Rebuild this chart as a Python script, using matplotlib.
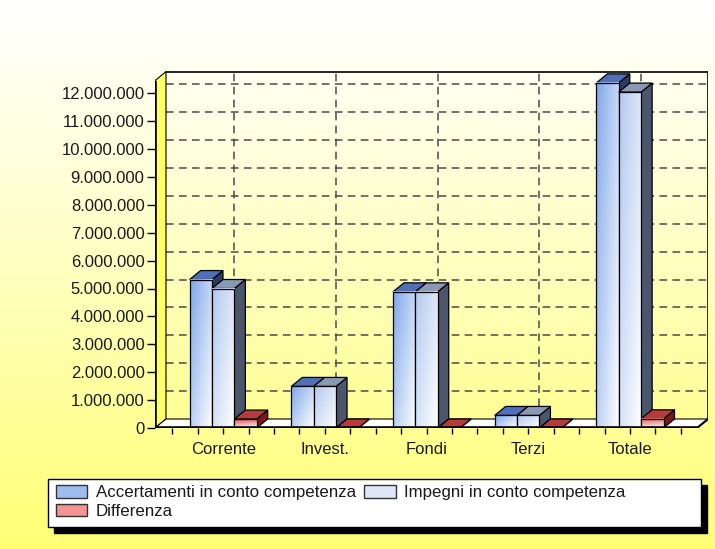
import numpy as np
import matplotlib
matplotlib.use("Agg")
import matplotlib.pyplot as plt
from matplotlib.patches import Polygon, Rectangle, Patch
from matplotlib.colors import to_rgb
from matplotlib.ticker import FuncFormatter, FixedLocator

plt.rcParams['font.family'] = ['Liberation Sans', 'DejaVu Sans']

categories = ["Corrente", "Invest.", "Fondi", "Terzi", "Totale"]
series_names = ["Accertamenti in conto competenza", "Impegni in conto competenza", "Differenza"]
accertamenti = [5320000, 1490000, 4880000, 450000, 12370000]
impegni = [5000000, 1490000, 4880000, 450000, 12040000]
differenza = [320000, 0, 0, 0, 330000]
y_ticks = list(range(0, 12000001, 1000000))

W, H = 715, 549
fig = plt.figure(figsize=(W / 100, H / 100), dpi=100)

# ---- figure background gradient (white top -> yellow bottom)
bg = fig.add_axes([0, 0, 1, 1], zorder=-10)
rows = np.linspace(0, 1, 256)[:, None]
top_c = np.array(to_rgb("#FFFFFF"))
bot_c = np.array(to_rgb("#FFFF74"))
t = rows ** 1.1
grad = (top_c * (1 - t) + bot_c * t)[:, None, :].repeat(2, axis=1)
bg.imshow(grad, aspect='auto', extent=[0, 1, 1, 0], interpolation='bilinear')
bg.set_xlim(0, 1); bg.set_ylim(1, 0)
bg.axis('off')

# ---- main axes geometry
XL, XR = -0.67, 4.66          # floor front extent in category units
PX_PER_CAT = 101.7
PX_PER_VAL = 27.9 / 1e6
DX = 11 / PX_PER_CAT
DY = 9 / PX_PER_VAL
YMAX = 12.85e6
WALL_TOP = 12.45e6
x0_px = 155
y0_px = 428
ax_w = (XR + DX - XL) * PX_PER_CAT
ax_h = YMAX * PX_PER_VAL
ax = fig.add_axes([x0_px / W, (H - y0_px) / H, ax_w / W, ax_h / H])
ax.set_facecolor("none")
for s in ax.spines.values():
    s.set_visible(False)

# back wall
wall = np.linspace(0, 1, 128)[:, None]
wt = np.array(to_rgb("#FFFFF2")); wb = np.array(to_rgb("#FFFF96"))
wg = (wb * (1 - wall) + wt * wall)[:, None, :].repeat(2, axis=1)
ax.imshow(wg, aspect='auto', origin='lower', extent=[XL + DX, XR + DX, DY, WALL_TOP + DY],
          interpolation='bilinear', zorder=1)

# grid lines on back wall
for v in y_ticks[1:]:
    ax.plot([XL + DX, XR + DX], [v + DY, v + DY], color="#4a4a4a", lw=1.1,
            dashes=(5, 3.5), zorder=2)
for i in range(len(categories)):
    ax.plot([i + DX, i + DX], [DY, WALL_TOP + DY], color="#4a4a4a", lw=1.1,
            dashes=(5, 3.5), zorder=2)

# left wall
ax.add_patch(Polygon([(XL, 0), (XL + DX, DY), (XL + DX, WALL_TOP + DY), (XL, WALL_TOP)],
                     closed=True, facecolor="#FFFF6A", edgecolor="black", lw=0.8, zorder=3))
# floor
ax.add_patch(Polygon([(XL, 0), (XR, 0), (XR + DX, DY), (XL + DX, DY)],
                     closed=True, facecolor="white", edgecolor="black", lw=0.8, zorder=3))
# frame lines
ax.plot([XL + DX, XR + DX], [WALL_TOP + DY, WALL_TOP + DY], color="black", lw=1.2, zorder=3)
ax.plot([XR + DX, XR + DX], [DY, WALL_TOP + DY], color="black", lw=1.2, zorder=3)
ax.plot([XL, XL], [0, WALL_TOP], color="black", lw=2.6, zorder=20, solid_capstyle='butt')
ax.plot([XL, XR], [0, 0], color="black", lw=2.6, zorder=20, solid_capstyle='butt')
ax.plot([XR, XR + DX], [0, DY], color="black", lw=1.5, zorder=20)


def gradient_face(base, u_w, v_w):
    n = 64
    u = np.linspace(0, 1, n)[None, :]
    v = np.linspace(0, 1, n)[:, None]
    tt = np.clip((1 - u) * u_w + v * v_w, 0, 1)
    c = np.array(to_rgb(base))
    white = np.ones(3)
    return white * (1 - tt[..., None]) + c * tt[..., None]


styles = [
    dict(front="#7FA7EA", uw=0.55, vw=0.45, top="#4F70B6", side="#2E3C64"),
    dict(front="#B3C8EF", uw=0.55, vw=0.45, top="#8A98B4", side="#4B566D"),
    dict(front="#DA5252", uw=0.15, vw=0.85, top="#B63C3C", side="#7A1818"),
]
series = [accertamenti, impegni, differenza]
BW = 0.22
for i in range(len(categories)):
    for j, vals in enumerate(series):
        h = vals[i]
        st = styles[j]
        x0 = i - 1.5 * BW + j * BW
        x1 = x0 + BW
        z = 5 + j * 4
        # side
        ax.add_patch(Polygon([(x1, 0), (x1 + DX, DY), (x1 + DX, h + DY), (x1, h)], closed=True,
                             facecolor=st["side"], edgecolor="black", lw=0.9, zorder=z))
        # top
        ax.add_patch(Polygon([(x0, h), (x1, h), (x1 + DX, h + DY), (x0 + DX, h + DY)], closed=True,
                             facecolor=st["top"], edgecolor="black", lw=0.9, zorder=z + 1))
        # front
        if h > 0:
            ax.imshow(gradient_face(st["front"], st["uw"], st["vw"]), aspect='auto', origin='lower',
                      extent=[x0, x1, 0, h], interpolation='bilinear', zorder=z + 2)
            ax.add_patch(Rectangle((x0, 0), BW, h, facecolor="none", edgecolor="black",
                                   lw=0.9, zorder=z + 3))

ax.set_xlim(XL, XR + DX)
ax.set_ylim(0, YMAX)

# ticks
ax.yaxis.set_major_locator(FixedLocator(y_ticks))
ax.yaxis.set_major_formatter(FuncFormatter(lambda v, p: f"{int(round(v)):,}".replace(",", ".")))
ax.tick_params(axis='y', direction='out', length=6, width=1, pad=1.5, labelsize=12,
               labelcolor="#1a1a1a")
ax.set_xticks(range(len(categories)))
ax.set_xticklabels(categories)
minor = [k * 0.25 - 0.5 for k in range(21) if (k % 4) != 2]
ax.xaxis.set_minor_locator(FixedLocator(minor))
ax.tick_params(axis='x', which='major', direction='out', length=4, width=1, pad=6,
               labelsize=12, labelcolor="#1a1a1a")
ax.tick_params(axis='x', which='minor', direction='out', length=4, width=1)

# legend box with shadow
lx0, ly0, lx1, ly1 = 48, 479, 701, 527
sh = 6
fig.add_artist(Rectangle((( lx0 + sh) / W, 1 - (ly1 + sh) / H), (lx1 - lx0) / W, (ly1 - ly0) / H,
                         transform=fig.transFigure, facecolor="black", edgecolor="black", zorder=1))
fig.add_artist(Rectangle((lx0 / W, 1 - ly1 / H), (lx1 - lx0) / W, (ly1 - ly0) / H,
                         transform=fig.transFigure, facecolor="white", edgecolor="black",
                         lw=1, zorder=2))
handles = [
    Patch(facecolor="#9DBDF0", edgecolor="#333333", label=series_names[0]),
    Patch(facecolor="#F29494", edgecolor="#333333", label=series_names[2]),
    Patch(facecolor="#DDE7F8", edgecolor="#333333", label=series_names[1]),
]
leg = fig.legend(handles=handles, ncol=2, loc='upper left',
                 bbox_to_anchor=(56 / W, 1 - 485 / H), frameon=False, fontsize=12.2,
                 handlelength=1.85, handleheight=0.78, handletextpad=0.5,
                 columnspacing=0.5, labelspacing=0.2, borderpad=0, borderaxespad=0)
leg.set_zorder(5)
for txt in leg.get_texts():
    txt.set_color("#1a1a1a")

fig.savefig("out.png", dpi=100)
